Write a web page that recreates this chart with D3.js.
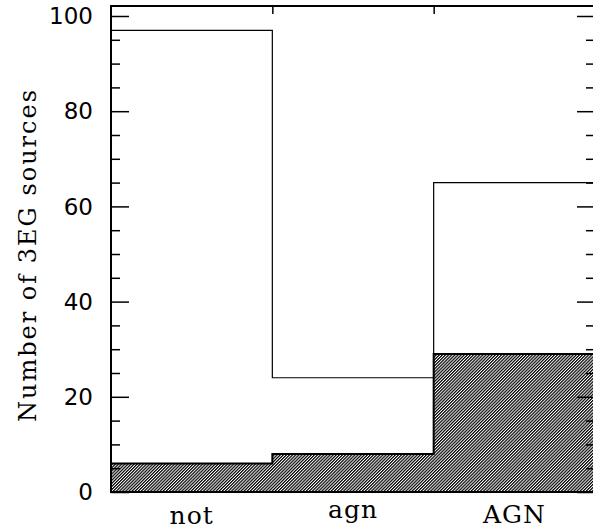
<!DOCTYPE html>
<html><head><meta charset="utf-8">
<script src="https://cdn.jsdelivr.net/npm/d3@7"></script>
<style>body{margin:0;background:#fff}svg{display:block}</style>
</head><body>
<svg id="c" width="593" height="531"></svg>
<script>
const categories = ["not", "agn", "AGN"];
const totalCounts = [97, 24, 65];
const hatchedCounts = [6, 8, 29];
const yTicks = [0, 20, 40, 60, 80, 100];
const yLabel = "Number of 3EG sources";

const W = 593, H = 531;
const m = {left: 111, top: 6, right: 595, bottom: 492};
const svg = d3.select("#c");

const x = d3.scaleLinear().domain([0, categories.length]).range([m.left, m.right]);
const y = d3.scaleLinear().domain([0, 102.1]).range([m.bottom, m.top]);

// hatch pattern
const defs = svg.append("defs");
const pat = defs.append("pattern").attr("id", "hatch").attr("patternUnits", "userSpaceOnUse")
  .attr("width", 2.2).attr("height", 2.2).attr("patternTransform", "rotate(45)");
pat.append("rect").attr("width", 2.2).attr("height", 2.2).attr("fill", "#fff");
pat.append("line").attr("x1", 0.6).attr("y1", 0).attr("x2", 0.6).attr("y2", 2.2)
  .attr("stroke", "#000").attr("stroke-width", 1.25);

function stepPath(vals, closed) {
  let p = "";
  vals.forEach((v, i) => {
    const cmd = i === 0 ? "M" : "L";
    p += cmd + x(i) + "," + y(v) + "L" + x(i + 1) + "," + y(v);
  });
  if (closed) p += "L" + x(vals.length) + "," + y(0) + "L" + x(0) + "," + y(0) + "Z";
  return p;
}

// hatched histogram
svg.append("path").attr("d", stepPath(hatchedCounts, true)).attr("fill", "url(#hatch)");
svg.append("path").attr("d", stepPath(hatchedCounts, false)).attr("fill", "none")
  .attr("stroke", "#000").attr("stroke-width", 2);

// total histogram
svg.append("path").attr("d", stepPath(totalCounts, false)).attr("fill", "none")
  .attr("stroke", "#000").attr("stroke-width", 1.2);

// frame
svg.append("rect").attr("x", m.left).attr("y", m.top)
  .attr("width", m.right - m.left).attr("height", m.bottom - m.top)
  .attr("fill", "none").attr("stroke", "#000").attr("stroke-width", 2);

// y axes with minor ticks
const minor = d3.range(0, 101, 5).filter(v => !yTicks.includes(v));
const axL = svg.append("g").attr("transform", `translate(${m.left},0)`);
axL.call(d3.axisRight(y).tickValues(yTicks).tickSize(18).tickFormat(""));
axL.append("g").call(d3.axisRight(y).tickValues(minor).tickSize(9).tickFormat(""));
const axR = svg.append("g").attr("transform", `translate(${m.right - 1},0)`);
axR.call(d3.axisLeft(y).tickValues(yTicks).tickSize(17).tickFormat(""));
axR.append("g").call(d3.axisLeft(y).tickValues(minor).tickSize(8).tickFormat(""));
svg.selectAll(".domain").remove();
svg.selectAll(".tick line").attr("stroke", "#000").attr("stroke-width", 1.5);

// top ticks at bin boundaries
const axT = svg.append("g").attr("transform", `translate(0,${m.top})`);
axT.call(d3.axisBottom(x).tickValues(d3.range(1, categories.length)).tickSize(8).tickFormat(""));
axT.select(".domain").remove();
axT.selectAll(".tick line").attr("stroke", "#000").attr("stroke-width", 1.5);

// y tick labels
svg.append("g").selectAll("text").data(yTicks).join("text")
  .attr("x", 93).attr("y", d => y(d)).attr("dy", "0.36em")
  .attr("text-anchor", "end").attr("font-family", "DejaVu Sans").attr("font-size", 23)
  .attr("fill", "#000").text(d => d);

// category labels
svg.append("g").selectAll("text").data(categories).join("text")
  .attr("x", (d, i) => x(i + 0.5)).attr("y", d => /[gjpqy]/.test(d) ? 518 : (/[A-Z]/.test(d) ? 523 : 524))
  .attr("text-anchor", "middle").attr("font-family", "DejaVu Serif").attr("font-size", 25)
  .attr("letter-spacing", 1).attr("fill", "#000").text(d => d);

// y label
svg.append("text").attr("transform", `translate(36,${(85 + 425) / 2}) rotate(-90)`)
  .attr("text-anchor", "middle").attr("font-family", "DejaVu Serif").attr("font-size", 24)
  .attr("letter-spacing", 2).attr("fill", "#000").text(yLabel);
</script>
</body></html>
